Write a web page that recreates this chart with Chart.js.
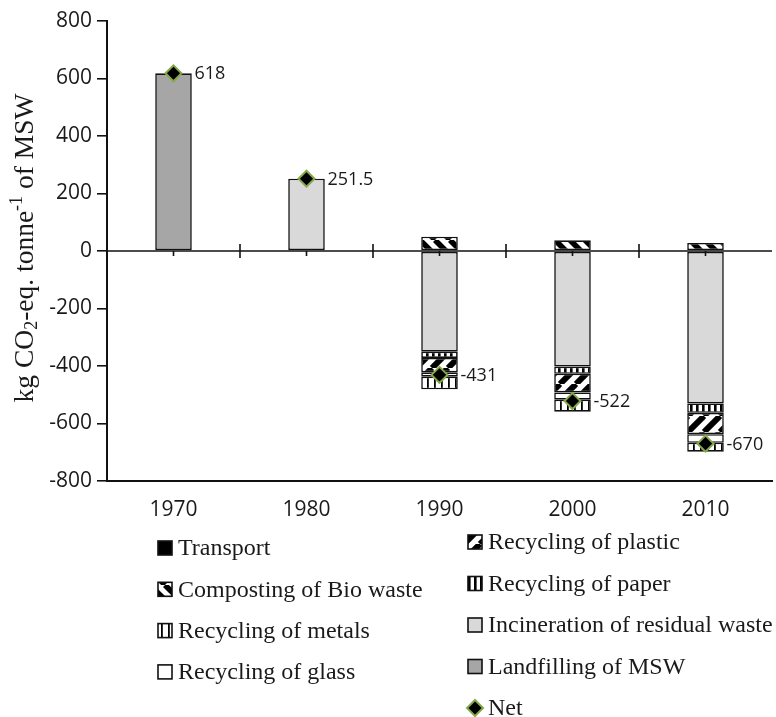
<!DOCTYPE html>
<html>
<head>
<meta charset="utf-8">
<script src="https://cdn.jsdelivr.net/npm/chart.js@4/dist/chart.umd.min.js"></script>
<style>
  html, body { margin: 0; padding: 0; background: #fff; overflow: hidden; width: 776px; height: 717px; }
  canvas { display: block; }
</style>
</head>
<body>
<canvas id="c" width="782" height="717"></canvas>
<script>
// Emissions per tonne of municipal solid waste, by year and process (kg CO2-eq.)
// null = process not present in that year
const years        = ['1970', '1980', '1990', '2000', '2010'];
const transport    = [null, null, null, null, null];
const composting   = [null, null, 50, 37, 28];
const metals       = [null, null, -44, -42, -31];
const glass        = [null, null, -15, -25, -30];
const plastic      = [null, null, -50, -65, -74];
const paper        = [null, null, -22, -25, -33];
const incineration = [null, 251.5, -350, -402, -530];
const landfilling  = [618, null, null, null, null];
const net          = [618, 251.5, -431, -522, -670];
const yMin = -800, yMax = 800, yStep = 200;

const INK = '#111';
const SERIF = "'Liberation Serif', 'Times New Roman', serif";
const SANS = "'Open Sans', 'Liberation Sans', sans-serif";

const canvas = document.getElementById('c');
const mainCtx = canvas.getContext('2d');

function makePattern(size, draw) {
  const t = document.createElement('canvas');
  t.width = size; t.height = size;
  const g = t.getContext('2d');
  g.fillStyle = '#fff';
  g.fillRect(0, 0, size, size);
  g.fillStyle = '#000';
  g.strokeStyle = '#000';
  draw(g, size);
  return mainCtx.createPattern(t, 'repeat');
}

// Fill styles for each process
const fills = {
  transport: '#000',
  composting: makePattern(15, (g, s) => {      // "\" stripes
    g.lineWidth = 5.5;
    for (let k = -1; k <= 1; k++) { g.beginPath(); g.moveTo(k * s, 0); g.lineTo(k * s + s, s); g.stroke(); }
  }),
  metals: makePattern(7, (g, s) => { g.fillRect(0, 0, 1.8, s); }),
  glass: '#fff',
  plastic: makePattern(16, (g, s) => {         // "/" stripes
    g.lineWidth = 6;
    for (let k = -1; k <= 1; k++) { g.beginPath(); g.moveTo(k * s, s); g.lineTo(k * s + s, 0); g.stroke(); }
  }),
  paper: makePattern(6, (g, s) => { g.fillRect(0, 0, 2.6, s); }),
  incineration: '#d9d9d9',
  landfilling: '#a6a6a6'
};

const names = {
  transport: 'Transport',
  composting: 'Composting of Bio waste',
  metals: 'Recycling of metals',
  glass: 'Recycling of glass',
  plastic: 'Recycling of plastic',
  paper: 'Recycling of paper',
  incineration: 'Incineration of residual waste',
  landfilling: 'Landfilling of MSW',
  net: 'Net'
};

const seriesData = { transport, composting, metals, glass, plastic, paper, incineration, landfilling };

// Stacking order: first entry sits next to the zero line
const stackOrder = ['landfilling', 'incineration', 'paper', 'plastic', 'glass', 'metals', 'composting', 'transport'];

const barSets = stackOrder.map(key => ({
  type: 'bar',
  label: names[key],
  data: seriesData[key],
  backgroundColor: fills[key],
  borderColor: INK,
  borderWidth: 1.6,
  borderSkipped: false,
  stack: 'main',
  order: 2,
  barPercentage: 0.275,
  categoryPercentage: 1
}));

const netSet = {
  type: 'line',
  label: names.net,
  data: net,
  showLine: false,
  stack: 'net',
  order: 0,
  pointStyle: 'rectRot',
  pointRadius: 8,
  pointBackgroundColor: '#000',
  pointBorderColor: '#86a84a',
  pointBorderWidth: 2
};

const legendLeft  = ['transport', 'composting', 'metals', 'glass'];
const legendRight = ['plastic', 'paper', 'incineration', 'landfilling', 'net'];

function fmt(v) { return Number.isInteger(v) ? String(v) : v.toFixed(1); }

const decorations = {
  id: 'decorations',
  afterDatasetsDraw(chart) {
    const { ctx, chartArea, scales } = chart;
    const x = scales.x, y = scales.y;
    const y0 = y.getPixelForValue(0);
    const step = x.getPixelForValue(1) - x.getPixelForValue(0);
    ctx.save();
    ctx.strokeStyle = INK;
    ctx.lineWidth = 1.6;
    // zero line
    ctx.beginPath();
    ctx.moveTo(chartArea.left, y0);
    ctx.lineTo(chartArea.right, y0);
    ctx.stroke();
    // category boundary ticks (crossing) and centre ticks (below)
    for (let i = 0; i < years.length; i++) {
      const cx = x.getPixelForValue(i);
      ctx.beginPath();
      ctx.moveTo(cx, y0); ctx.lineTo(cx, y0 + 5);
      ctx.stroke();
      if (i < years.length - 1) {
        const bx = cx + step / 2;
        ctx.beginPath();
        ctx.moveTo(bx, y0 - 7); ctx.lineTo(bx, y0 + 7);
        ctx.stroke();
      }
    }
    // net value labels
    const netIdx = chart.data.datasets.indexOf(netSet);
    const meta = chart.getDatasetMeta(netIdx);
    ctx.fillStyle = '#1a1a1a';
    ctx.font = '18px ' + SANS;
    ctx.textAlign = 'left';
    ctx.textBaseline = 'middle';
    meta.data.forEach((pt, i) => {
      ctx.fillText(fmt(net[i]), pt.x + 21, pt.y + 1);
    });
    ctx.restore();
  },
  afterDraw(chart) {
    const ctx = chart.ctx;
    ctx.save();
    // y-axis title with sub- and superscript
    const parts = [
      { t: 'kg CO', s: 27.5, dy: 0 },
      { t: '2', s: 18, dy: 6 },
      { t: '-eq. tonne', s: 27.5, dy: 0 },
      { t: '-1', s: 18, dy: -9 },
      { t: ' of MSW', s: 27.5, dy: 0 }
    ];
    let total = 0;
    parts.forEach(p => { ctx.font = p.s + 'px ' + SERIF; p.w = ctx.measureText(p.t).width; total += p.w; });
    ctx.translate(26, 248);
    ctx.rotate(-Math.PI / 2);
    ctx.fillStyle = '#1a1a1a';
    ctx.textBaseline = 'middle';
    ctx.textAlign = 'left';
    let cx = -total / 2;
    parts.forEach(p => {
      ctx.font = p.s + 'px ' + SERIF;
      ctx.fillText(p.t, cx, p.dy);
      cx += p.w;
    });
    ctx.restore();

    // legend in two columns
    ctx.save();
    ctx.font = '24px ' + SERIF;
    ctx.textBaseline = 'middle';
    ctx.textAlign = 'left';
    const drawEntry = (key, bx, cy) => {
      if (key === 'net') {
        ctx.beginPath();
        ctx.moveTo(bx + 7, cy - 8); ctx.lineTo(bx + 15, cy);
        ctx.lineTo(bx + 7, cy + 8); ctx.lineTo(bx - 1, cy);
        ctx.closePath();
        ctx.fillStyle = '#000'; ctx.fill();
        ctx.strokeStyle = '#86a84a'; ctx.lineWidth = 2; ctx.stroke();
      } else {
        ctx.fillStyle = fills[key];
        ctx.fillRect(bx, cy - 7, 14, 14);
        ctx.strokeStyle = INK; ctx.lineWidth = 1.6;
        ctx.strokeRect(bx, cy - 7, 14, 14);
      }
      ctx.fillStyle = '#1a1a1a';
      ctx.fillText(names[key], bx + 20, cy + 1);
    };
    legendLeft.forEach((k, i) => drawEntry(k, 158, 548 + i * 41.3));
    legendRight.forEach((k, i) => drawEntry(k, 468, 542 + i * 41.5));
    ctx.restore();
  }
};

function build() {
  new Chart(canvas, {
    data: { labels: years, datasets: [...barSets, netSet] },
    options: {
      responsive: false,
      devicePixelRatio: 1,
      animation: false,
      layout: { padding: { top: 21, left: 0, right: 0, bottom: 0 } },
      plugins: { legend: { display: false }, tooltip: { enabled: false } },
      scales: {
        x: {
          stacked: true,
          offset: true,
          grid: { display: false },
          border: { display: true, color: INK, width: 2 },
          ticks: { color: '#1a1a1a', font: { family: SANS, size: 21 }, padding: 8 },
          afterFit: s => { s.height = 236; }
        },
        y: {
          stacked: true,
          min: yMin, max: yMax,
          ticks: { stepSize: yStep, color: '#1a1a1a', font: { family: SANS, size: 21 }, padding: 5 },
          grid: { drawOnChartArea: false, drawTicks: true, tickLength: 10, color: INK, lineWidth: 1.6 },
          border: { display: true, color: INK, width: 2 },
          afterFit: s => { s.width = 107; }
        }
      }
    },
    plugins: [decorations]
  });
}

const fontLoads = [
  document.fonts.load('20px "Open Sans"'),
  document.fonts.load('24px "Liberation Serif"')
];
Promise.all(fontLoads).then(build, build);
</script>
</body>
</html>
